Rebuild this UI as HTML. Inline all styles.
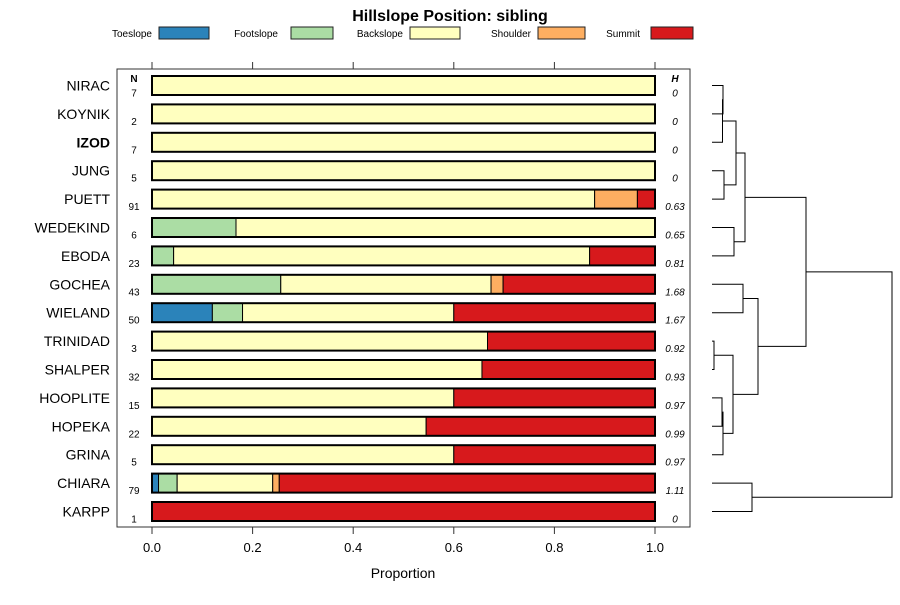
<!DOCTYPE html>
<html><head><meta charset="utf-8"><style>
body{margin:0;background:#fff;font-family:"Liberation Sans",sans-serif}
svg text{font-family:"Liberation Sans",sans-serif}
</style></head><body>
<svg id="chart" width="900" height="600" viewBox="0 0 900 600">
<rect width="900" height="600" fill="#fff"/>
<text x="450" y="21" text-anchor="middle" font-size="16" font-weight="bold">Hillslope Position: sibling</text>
<g id="legend"></g>
<rect x="117" y="69" width="573" height="458" fill="none" stroke="#333" stroke-width="1"/>
<g id="axes"></g>
<g id="bars"></g>
<g id="dendro"></g>
<text x="403" y="578" text-anchor="middle" font-size="14">Proportion</text>
</svg>
<script>
const categories=["NIRAC","KOYNIK","IZOD","JUNG","PUETT","WEDEKIND","EBODA","GOCHEA","WIELAND","TRINIDAD","SHALPER","HOOPLITE","HOPEKA","GRINA","CHIARA","KARPP"];
const seriesNames=["Toeslope","Footslope","Backslope","Shoulder","Summit"];
const toeslope=[0,0,0,0,0,0,0,0,0.12,0,0,0,0,0,0.013,0];
const footslope=[0,0,0,0,0,0.167,0.043,0.256,0.06,0,0,0,0,0,0.037,0];
const backslope=[1,1,1,1,0.88,0.833,0.827,0.418,0.42,0.667,0.656,0.6,0.545,0.6,0.19,0];
const shoulder=[0,0,0,0,0.085,0,0,0.024,0,0,0,0,0,0,0.013,0];
const summit=[0,0,0,0,0.035,0,0.13,0.302,0.4,0.333,0.344,0.4,0.455,0.4,0.747,1];
const nValues=["7","2","7","5","91","6","23","43","50","3","32","15","22","5","79","1"];
const hValues=["0","0","0","0","0.63","0.65","0.81","1.68","1.67","0.92","0.93","0.97","0.99","0.97","1.11","0"];
const xTicks=[0,0.2,0.4,0.6,0.8,1.0];
const xTickLabels=["0.0","0.2","0.4","0.6","0.8","1.0"];
const colors=["#2b83ba","#abdda4","#ffffbf","#fdae61","#d7191c"];
// dendrogram merges: [leftNode,rightNode,height]; leaves 0..15, internal nodes 16+
const merges=[[0,1,0.11],[16,2,0.105],[3,4,0.12],[17,18,0.24],[5,6,0.22],[19,20,0.33],[7,8,0.31],[9,10,0.02],[11,12,0.10],[24,13,0.11],[23,25,0.21],[22,26,0.46],[21,27,0.94],[14,15,0.40],[28,29,1.8]];

const NS="http://www.w3.org/2000/svg";
const svg=document.getElementById('chart');
function el(tag,attrs,parent){const e=document.createElementNS(NS,tag);for(const k in attrs)e.setAttribute(k,attrs[k]);(parent||svg).appendChild(e);return e;}
const xs=v=>152+v*503;
const ys=i=>85.5+i*28.4;
const dx=h=>712+h*100;

// legend
const lg=document.getElementById('legend');
const legX=[[152,159],[278,291],[403,410],[531,538],[640,651]];
seriesNames.forEach((s,i)=>{
  const t=el('text',{x:legX[i][0],y:37,'text-anchor':'end','font-size':10},lg);t.textContent=s;
  
  
  const r=el('rect',{x:legX[i][1],y:27,width:i==4?42:(i==3?47:(i==1?42:50)),height:12,fill:colors[i],stroke:'#222','stroke-width':1},lg);
  
  
});

// axes
const ax=document.getElementById('axes');
xTicks.forEach((v,i)=>{
  el('line',{x1:xs(v),x2:xs(v),y1:62,y2:69,stroke:'#333'},ax);
  el('line',{x1:xs(v),x2:xs(v),y1:527,y2:534,stroke:'#333'},ax);
  const t=el('text',{x:xs(v),y:552,'text-anchor':'middle','font-size':13},ax);t.textContent=xTickLabels[i];
  
  
});
let t=el('text',{x:134,y:82,'text-anchor':'middle','font-size':10,'font-weight':'bold'},ax);t.textContent='N';


t=el('text',{x:675,y:82,'text-anchor':'middle','font-size':10,'font-weight':'bold','font-style':'italic'},ax);t.textContent='H';



// bars
const bg=document.getElementById('bars');
const series=[toeslope,footslope,backslope,shoulder,summit];
categories.forEach((c,i)=>{
  const y=ys(i);
  const lab=el('text',{x:110,y:y+5,'text-anchor':'end','font-size':14,'font-weight':c==='IZOD'?'bold':'normal'},bg);lab.textContent=c;
  
  
  const n=el('text',{x:134,y:y+11,'text-anchor':'middle','font-size':10},bg);n.textContent=nValues[i];
  
  
  const h=el('text',{x:675,y:y+11,'text-anchor':'middle','font-size':10,'font-style':'italic'},bg);h.textContent=hValues[i];
  
  
  let cum=0;
  series.forEach((s,j)=>{
    const v=s[i];if(v<=0)return;
    const r=el('rect',{x:xs(cum),y:y-9.5,width:xs(cum+v)-xs(cum),height:19,fill:colors[j],stroke:'#000','stroke-width':1},bg);
    
    
    cum+=v;
  });
  const o=el('rect',{x:xs(0),y:y-9.5,width:xs(1)-xs(0),height:19,fill:'none',stroke:'#000','stroke-width':2},bg);
  
  
});

// dendrogram
const dg=document.getElementById('dendro');
const nodes=categories.map((c,i)=>({y:ys(i),h:0}));
merges.forEach(m=>{
  const a=nodes[m[0]],b=nodes[m[1]],x=dx(m[2]);
  el('path',{d:`M${dx(a.h)},${a.y}H${x}V${b.y}H${dx(b.h)}`,fill:'none',stroke:'#000','stroke-width':1},dg);
  nodes.push({y:(a.y+b.y)/2,h:m[2]});
});
</script>
</body></html>
